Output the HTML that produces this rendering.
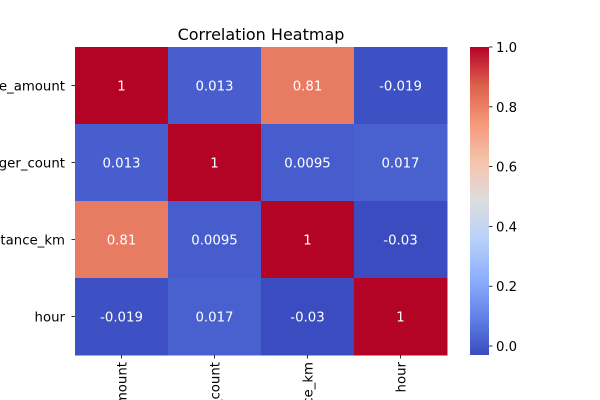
<!DOCTYPE html>
<html><head><meta charset="utf-8"><style>
html,body{margin:0;padding:0;background:#fff;width:600px;height:400px;overflow:hidden;}
svg{display:block;font-family:"DejaVu Sans","Liberation Sans",sans-serif;overflow:hidden;}
</style></head><body>
<svg id="chart" width="600" height="400" viewBox="0 0 600 400">
<defs>
<linearGradient id="cbgrad" x1="0" y1="1" x2="0" y2="0"></linearGradient>
<clipPath id="frame"><rect x="0" y="0" width="600" height="400"/></clipPath>
</defs>
<text x="261" y="40" text-anchor="middle" font-size="16">Correlation Heatmap</text>
<g id="cells"></g>
<g id="axes" clip-path="url(#frame)"></g>
<g id="cbar"></g>
</svg>
<script>
const labels = ["fare_amount","passenger_count","distance_km","hour"];
const row0 = [1, 0.013, 0.81, -0.019];
const row1 = [0.013, 1, 0.0095, 0.017];
const row2 = [0.81, 0.0095, 1, -0.03];
const row3 = [-0.019, 0.017, -0.03, 1];
const cbTicks = [0.0, 0.2, 0.4, 0.6, 0.8, 1.0];
const matrix = [row0,row1,row2,row3];
const NS="http://www.w3.org/2000/svg";
const L=75,R=447,T=47,B=355;
const FS=13.3;
const flat=matrix.flat();
const vmin=Math.min(...flat), vmax=Math.max(...flat);
const n=labels.length, cw=(R-L)/n, ch=(B-T)/n;
const stops=[[59,76,192],[98,130,234],[141,176,254],[184,208,249],[221,221,221],[245,196,173],[244,154,123],[222,96,77],[180,4,38]];
function cmap(v){let t=(v-vmin)/(vmax-vmin);t=Math.max(0,Math.min(1,t));const p=t*8,i=Math.min(7,Math.floor(p)),f=p-i;const a=stops[i],b=stops[i+1];return `rgb(${a.map((c,k)=>Math.round(c+(b[k]-c)*f)).join(",")})`;}
function mk(tag,attrs,parent,text){const e=document.createElementNS(NS,tag);for(const k in attrs)e.setAttribute(k,attrs[k]);if(text!==undefined)e.textContent=text;parent.appendChild(e);return e;}
const cells=document.getElementById('cells');
matrix.forEach((row,r)=>row.forEach((v,c)=>{
  const rc=mk('rect',{x:L+c*cw,y:T+r*ch,width:cw+0.5,height:ch+0.5,fill:cmap(v)},cells);
  
  
  const tx=mk('text',{x:L+(c+0.5)*cw,y:T+(r+0.5)*ch+5,'text-anchor':'middle','font-size':FS,fill:'#fff'},cells,String(v));
  
  
}));
const axes=document.getElementById('axes');
labels.forEach((lab,i)=>{
  const y=T+(i+0.5)*ch;
  mk('line',{x1:L-3.5,x2:L,y1:y,y2:y,stroke:'#000','stroke-width':0.8},axes);
  const t=mk('text',{x:L-10,y:y+5,'text-anchor':'end','font-size':FS},axes,lab);
  
  
  const x=L+(i+0.5)*cw;
  mk('line',{x1:x,x2:x,y1:B,y2:B+3.5,stroke:'#000','stroke-width':0.8},axes);
  const t2=mk('text',{x:0,y:0,'text-anchor':'end','font-size':FS,transform:`translate(${x+5},${B+7}) rotate(-90)`},axes,lab);
  
  
});
const g=document.getElementById('cbgrad');
for(let i=0;i<=8;i++){mk('stop',{offset:i/8,'stop-color':`rgb(${stops[i].join(',')})`},g);}
const cb=document.getElementById('cbar');
const CX=470,CW=19;
const cy=v=>B-(v-vmin)/(vmax-vmin)*(B-T);
mk('rect',{x:CX,y:T,width:CW,height:B-T,fill:'url(#cbgrad)'},cb);
cbTicks.forEach(v=>{
  const y=cy(v);
  mk('line',{x1:CX+CW,x2:CX+CW+3.5,y1:y,y2:y,stroke:'#000','stroke-width':0.8},cb);
  const t=mk('text',{x:CX+CW+7,y:y+5,'font-size':FS},cb,v.toFixed(1));
  
  
});
</script>
</body></html>
